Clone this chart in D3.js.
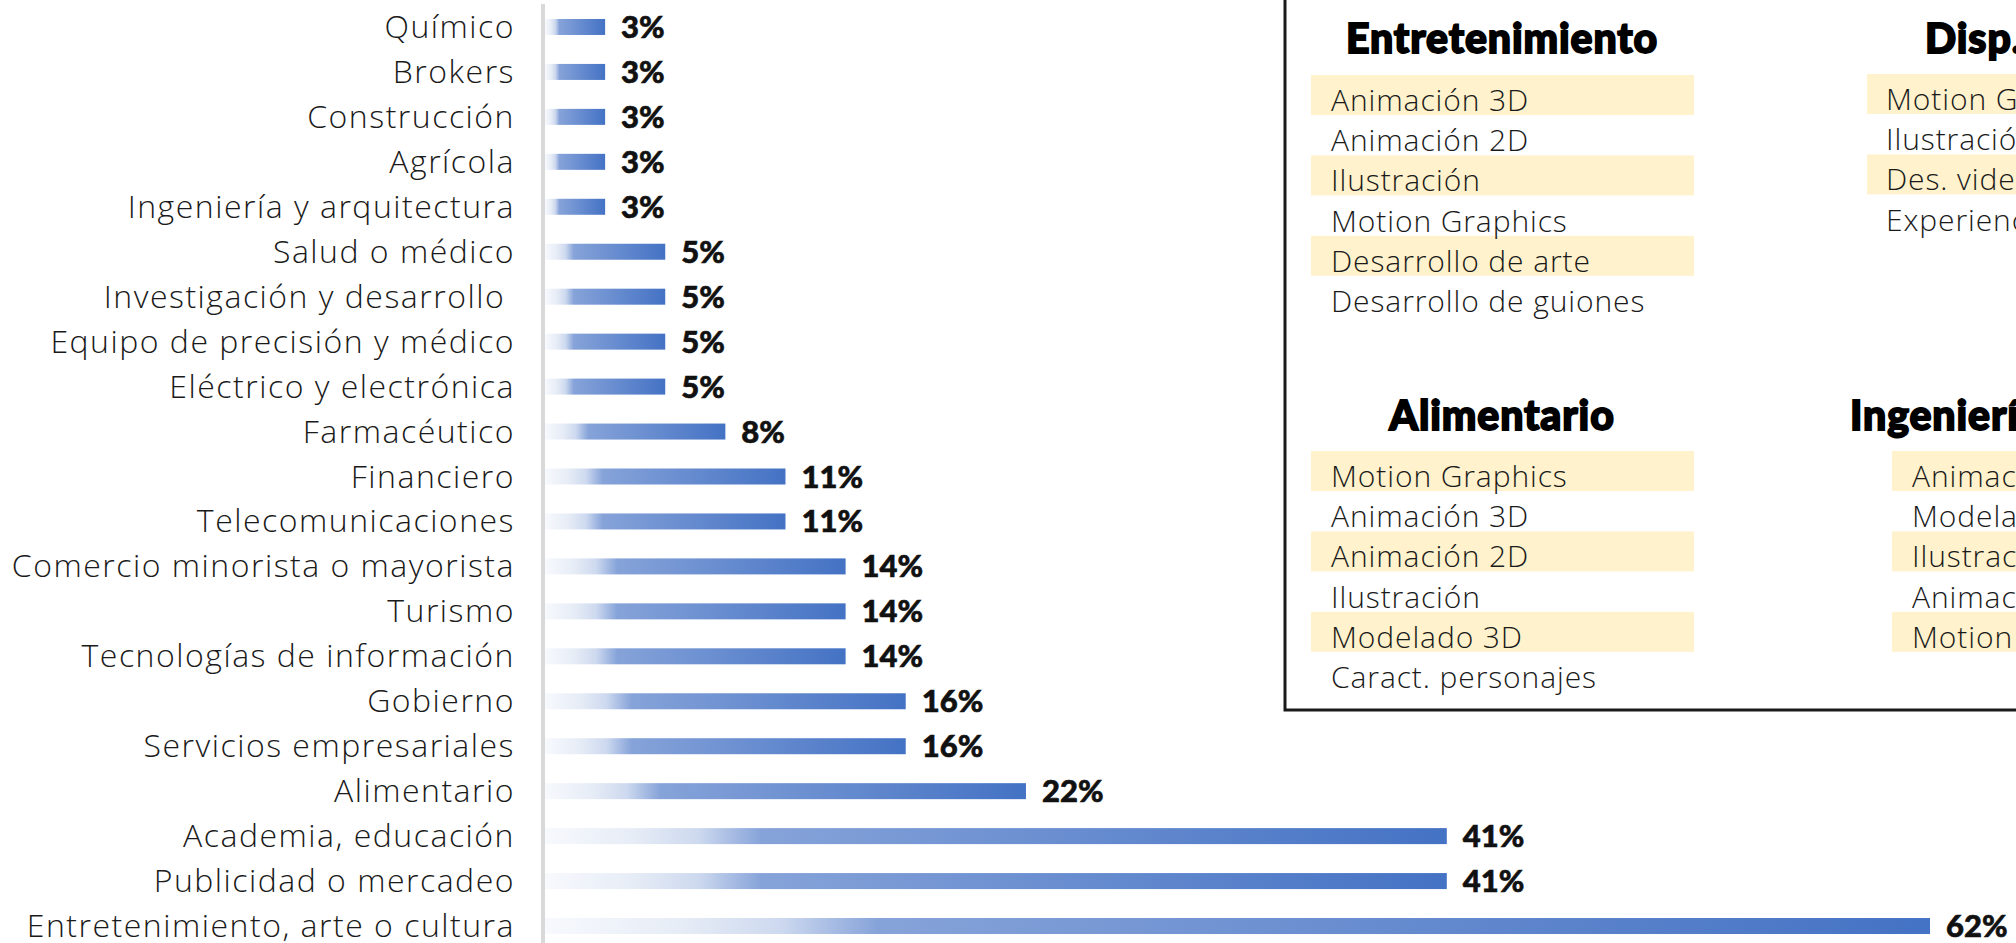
<!DOCTYPE html>
<html>
<head>
<meta charset="utf-8">
<script src="https://cdn.jsdelivr.net/npm/d3@7"></script>
<style>
  html, body { margin: 0; padding: 0; background: #fff; overflow: hidden; }
  svg { display: block; }
</style>
</head>
<body>
<div id="chart"></div>
<script>
// sectores (de arriba hacia abajo) y su porcentaje
const sectores = [
  "Químico", "Brokers", "Construcción", "Agrícola", "Ingeniería y arquitectura",
  "Salud o médico", "Investigación y desarrollo ", "Equipo de precisión y médico",
  "Eléctrico y electrónica", "Farmacéutico", "Financiero", "Telecomunicaciones",
  "Comercio minorista o mayorista", "Turismo", "Tecnologías de información",
  "Gobierno", "Servicios empresariales", "Alimentario", "Academia, educación",
  "Publicidad o mercadeo", "Entretenimiento, arte o cultura"
];
const porcentajes = [
  2.7, 2.7, 2.7, 2.7, 2.7,
  5.4, 5.4, 5.4, 5.4,
  8.1, 10.8, 10.8,
  13.5, 13.5, 13.5,
  16.2, 16.2, 21.6, 40.5, 40.5, 62.2
];

// recuadro con servicios por sector
const titulosGrupo = ["Entretenimiento", "Disp. móviles", "Alimentario", "Ingeniería y arquitectura"];
const serviciosEntretenimiento = ["Animación 3D", "Animación 2D", "Ilustración", "Motion Graphics", "Desarrollo de arte", "Desarrollo de guiones"];
const serviciosDisp = ["Motion Graphics", "Ilustración", "Des. videojuegos", "Experiencia de usuario"];
const serviciosAlimentario = ["Motion Graphics", "Animación 3D", "Animación 2D", "Ilustración", "Modelado 3D", "Caract. personajes"];
const serviciosIngenieria = ["Animación 3D", "Modelado 3D", "Ilustración", "Animación 2D", "Motion Graphics"];

const width = 2016, height = 943;
const fuente = "'Open Sans', Lato, sans-serif";
const svg = d3.select("#chart").append("svg")
    .attr("width", width)
    .attr("height", height);

const defs = svg.append("defs");
const grad = defs.append("linearGradient")
    .attr("id", "barGrad")
    .attr("x1", "0%").attr("x2", "100%")
    .attr("y1", "0%").attr("y2", "0%");
[[0, "#f7f9fd"], [0.1, "#e6ecf6"], [0.17, "#cdd9ef"], [0.24, "#86a3d9"], [1, "#4472c4"]]
    .forEach(s => grad.append("stop").attr("offset", s[0]).attr("stop-color", s[1]));

const data = sectores.map((s, i) => ({sector: s, valor: porcentajes[i]}));

const x = d3.scaleLinear()
    .domain([0, 62.2])
    .range([545, 1930]);

const y = d3.scaleBand()
    .domain(sectores)
    .range([4.5, 948.5])
    .paddingInner(0.64)
    .paddingOuter(0.32);

const barH = 16;

// eje vertical gris
svg.append("line")
    .attr("x1", 543).attr("x2", 543)
    .attr("y1", 4).attr("y2", height)
    .attr("stroke", "#d9d9d9")
    .attr("stroke-width", 4);

const fila = d => y(d.sector) + y.bandwidth() / 2;

svg.selectAll("rect.bar").data(data).enter().append("rect")
    .attr("class", "bar")
    .attr("x", x(0))
    .attr("y", d => fila(d) - barH / 2)
    .attr("width", d => x(d.valor) - x(0))
    .attr("height", barH)
    .attr("fill", "url(#barGrad)");

svg.selectAll("text.cat").data(data).enter().append("text")
    .attr("class", "cat")
    .attr("x", 515)
    .attr("y", d => fila(d) + 11)
    .attr("text-anchor", "end")
    .style("white-space", "pre")
    .style("font-family", fuente)
    .style("font-weight", 300)
    .style("font-size", "32px")
    .style("letter-spacing", "1.5px")
    .attr("fill", "#1a1a1a")
    .text(d => d.sector);

svg.selectAll("text.val").data(data).enter().append("text")
    .attr("class", "val")
    .attr("x", d => x(d.valor) + 16)
    .attr("y", d => fila(d) + 11)
    .style("font-family", "Lato, sans-serif")
    .style("font-weight", 900)
    .style("font-size", "31px")
    .attr("fill", "#111")
    .attr("stroke", "#111")
    .attr("stroke-width", 0.6)
    .text(d => Math.round(d.valor) + "%");

// recuadro
svg.append("rect")
    .attr("x", 1285).attr("y", -10)
    .attr("width", 1000).attr("height", 720)
    .attr("fill", "none")
    .attr("stroke", "#1a1a1a")
    .attr("stroke-width", 3);

const grupos = [
  {titulo: titulosGrupo[0], items: serviciosEntretenimiento, rx: 1311, tx: 1331, top: 75, ty: 53, hx: 1502, anchor: "middle"},
  {titulo: titulosGrupo[1], items: serviciosDisp, rx: 1867, tx: 1886, top: 74, ty: 53, hx: 1925, anchor: "start"},
  {titulo: titulosGrupo[2], items: serviciosAlimentario, rx: 1311, tx: 1331, top: 451, ty: 430, hx: 1502, anchor: "middle"},
  {titulo: titulosGrupo[3], items: serviciosIngenieria, rx: 1892, tx: 1912, top: 451, ty: 430, hx: 1850, anchor: "start"}
];
const paso = 40.2, rw = 383, rh = 40;

grupos.forEach(g => {
  const gg = svg.append("g");
  gg.append("text")
      .attr("x", g.hx).attr("y", g.ty)
      .attr("text-anchor", g.anchor)
      .style("font-family", "Lato, sans-serif")
      .style("font-weight", 900)
      .style("font-size", "41px")
      .style("letter-spacing", "0.9px")
      .attr("fill", "#000")
      .attr("stroke", "#000")
      .attr("stroke-width", 1.8)
      .text(g.titulo);

  gg.selectAll("rect").data(g.items.filter((d, i) => i % 2 === 0)).enter().append("rect")
      .attr("x", g.rx)
      .attr("y", (d, i) => g.top + i * 2 * paso)
      .attr("width", rw)
      .attr("height", rh)
      .attr("fill", "#fff2cc");

  gg.selectAll("text.item").data(g.items).enter().append("text")
      .attr("class", "item")
      .attr("x", g.tx)
      .attr("y", (d, i) => g.top + i * paso + 36)
      .style("font-family", fuente)
      .style("font-weight", 300)
      .style("font-size", "30px")
      .style("letter-spacing", "0.9px")
      .attr("fill", "#1a1a1a")
      .text(d => d);
});
</script>
</body>
</html>
